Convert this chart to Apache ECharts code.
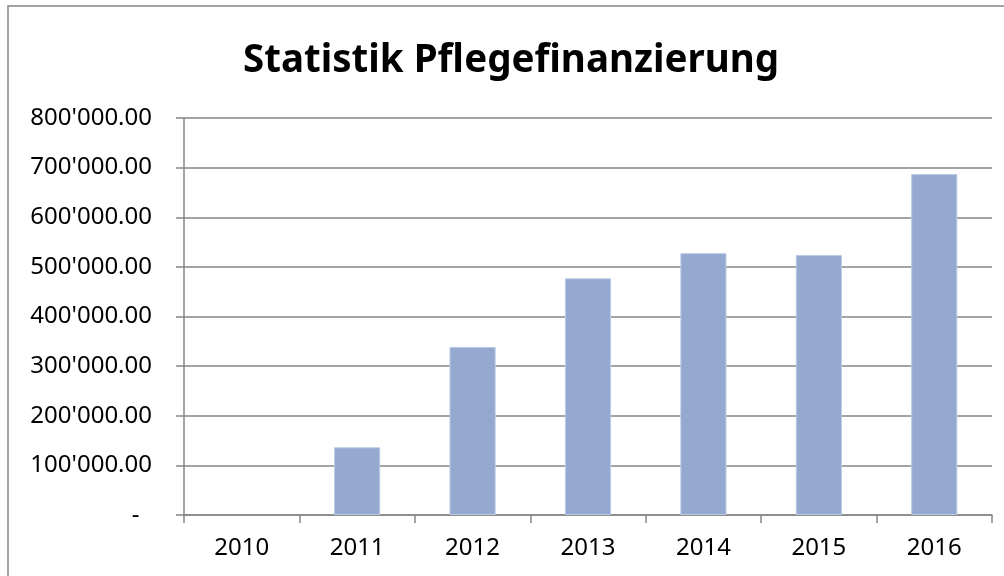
<!DOCTYPE html>
<html>
<head>
<meta charset="utf-8">
<script src="https://cdn.jsdelivr.net/npm/echarts@6/dist/echarts.min.js"></script>
<style>
html,body{margin:0;padding:0;background:#fff;}
#chart{width:1004px;height:576px;}
</style>
</head>
<body>
<div id="chart"></div>
<script>
var titleText = 'Statistik Pflegefinanzierung';
var years = ['2010', '2011', '2012', '2013', '2014', '2015', '2016'];
var kosten = [null, 136500, 338700, 477000, 527600, 524000, 687000];
var yMin = 0;
var yMax = 800000;
var yStep = 100000;

function fmt(v) {
  if (v === 0) return '-  ';
  var s = v.toFixed(2);
  var parts = s.split('.');
  var intPart = parts[0].replace(/\B(?=(\d{3})+(?!\d))/g, "'");
  return intPart + '.' + parts[1];
}

var chart = echarts.init(document.getElementById('chart'), null, {renderer: 'canvas'});
var gray = '#868686';
chart.setOption({
  backgroundColor: '#ffffff',
  animation: false,
  title: {
    text: titleText,
    left: 238,
    top: 37,
    textStyle: {
      fontFamily: 'Noto Sans',
      fontWeight: 'bold',
      fontSize: 38.5,
      color: '#000'
    }
  },
  graphic: [{
    type: 'rect',
    shape: {x: 8, y: 6, width: 1100, height: 700},
    style: {fill: 'none', stroke: gray, lineWidth: 1.5},
    silent: true,
    z: -1
  }],
  grid: {left: 184, right: 12, top: 118, bottom: 61},
  xAxis: {
    type: 'category',
    data: years,
    axisLine: {lineStyle: {color: gray, width: 1.5}},
    axisTick: {show: true, length: 8, lineStyle: {color: gray, width: 1.5}},
    axisLabel: {
      margin: 21,
      fontFamily: 'Noto Sans',
      fontSize: 24,
      color: '#000'
    }
  },
  yAxis: {
    type: 'value',
    min: yMin,
    max: yMax,
    interval: yStep,
    axisLine: {show: true, lineStyle: {color: gray, width: 1.5}},
    axisTick: {show: true, length: 8, lineStyle: {color: gray, width: 1.5}},
    splitLine: {show: true, lineStyle: {color: gray, width: 1.5}},
    axisLabel: {
      margin: 32,
      fontFamily: 'Noto Sans',
      fontSize: 24,
      color: '#000',
      formatter: fmt
    }
  },
  series: [{
    type: 'bar',
    data: kosten,
    barWidth: '40%',
    itemStyle: {color: '#95a9d0', borderColor: '#bccbe6', borderWidth: 1}
  }]
});
</script>
</body>
</html>
